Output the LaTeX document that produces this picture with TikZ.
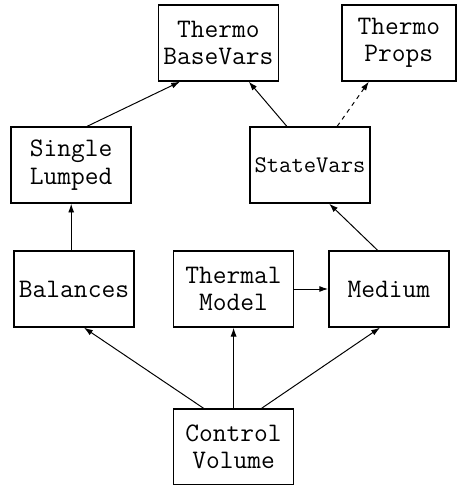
\documentclass[tikz,border=0pt]{standalone}
\usepackage{tikz}
\usetikzlibrary{
    calc,
    arrows,
    arrows.meta
}
\tikzset{
    box/.style={draw, line width=1pt, minimum width=3cm, minimum height=1.9cm,
        align=center, inner sep=0pt, font=\ttfamily\fontsize{19}{19.5}\selectfont},
    dep/.style={-{Latex[length=2.2mm,width=1.5mm]}, line width=0.7pt},
}

\begin{document}
\begin{tikzpicture}
        \useasboundingbox (0,0) rectangle (11.425,12.125);

        \draw (5.46,11.05) node[box](basevars){Thermo\\BaseVars};
        \draw (9.97,11.05) node[box, minimum width=2.85cm](props){Thermo\\Props};
        \draw (1.78,8.0) node[box](lumped){Single\\Lumped};
        \draw (7.75,8.0) node[box, font=\ttfamily\fontsize{17}{17}\selectfont](statevars){StateVars};
        \draw (1.85,4.9) node[box](balances){Balances};
        \draw (5.84,4.9) node[box](thermal){Thermal\\Model};
        \draw (9.72,4.9) node[box](medium){Medium};
        \draw (5.84,0.95) node[box](cv){Control\\Volume};

        \draw[dep] ([xshift=0.4cm]lumped.north) to ([xshift=-0.96cm]basevars.south);
        \draw[dep] ([xshift=-0.58cm]statevars.north) to ([xshift=0.76cm]basevars.south);
        \draw[dep, dashed] ([xshift=0.68cm]statevars.north) to ([xshift=-0.75cm]props.south);
        \draw[dep] (balances.north -| lumped.south) to (lumped.south);
        \draw[dep] ([xshift=-0.28cm]medium.north) to ([xshift=0.48cm]statevars.south);
        \draw[dep] (thermal.east) to (medium.west);
        \draw[dep] ([xshift=-0.75cm]cv.north) to ([xshift=0.25cm]balances.south);
        \draw[dep] (cv.north) to (thermal.south);
        \draw[dep] ([xshift=0.7cm]cv.north) to ([xshift=-0.22cm]medium.south);
    \end{tikzpicture}
\end{document}
